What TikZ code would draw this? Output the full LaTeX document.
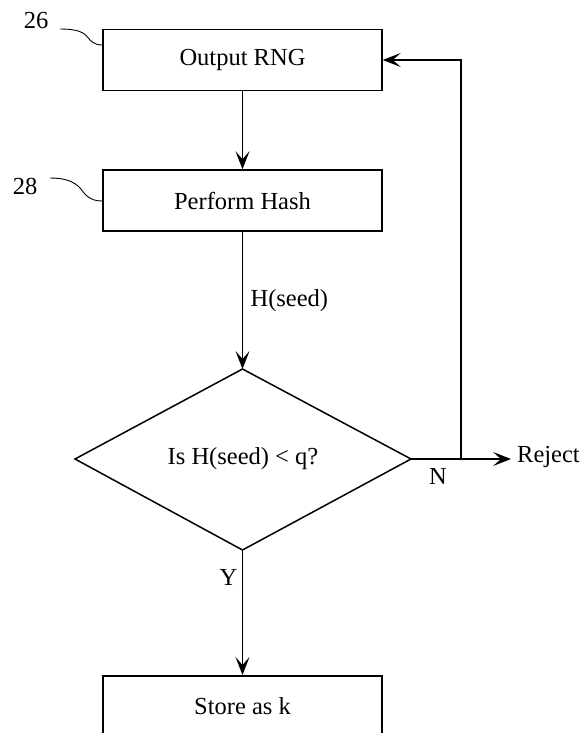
\documentclass[tikz,border=0pt]{standalone}
\usepackage{fontspec}
\setmainfont{Liberation Serif}
\usetikzlibrary{arrows.meta,shapes.geometric}
\begin{document}
\begin{tikzpicture}[x=1pt,y=-1pt,
  every node/.style={font=\fontsize{24.5}{28}\selectfont},
  procbox/.style={draw,line width=1.5pt,minimum width=279pt,minimum height=61pt,inner sep=0pt},
  flow/.style={line width=1.5pt,-{Stealth[length=18pt,width=14pt,inset=8pt]}},
  lead/.style={line width=0.9pt}]
\useasboundingbox (0,0) rectangle (586,733);
\node[procbox] (rng) at (242.5,60) {Output RNG};
\node[procbox] (hash) at (242.5,200.5) {Perform Hash};
\coordinate (dtop) at (242.5,369);
\coordinate (dleft) at (75,459);
\coordinate (dright) at (411,459);
\coordinate (dbot) at (242.5,550);
\draw[line width=1.5pt,line join=miter] (dtop) -- (dright) -- (dbot) -- (dleft) -- cycle;
\node (q) at (243,459) {Is H(seed) < q?};
\node[procbox,anchor=north] (store) at (242.5,675) {Store as k};
\coordinate (rej) at (511,459);
\coordinate (fb) at (461,459);
\coordinate (fbtop) at (461,60);
\node[anchor=west,inner sep=0pt] (reject) at (517,457) {Reject};
\draw[flow] (rng) -- (hash);
\draw[flow] (hash) -- node[right,xshift=4pt] (hs) {H(seed)} (dtop);
\draw[flow] (dright) -- (rej);
\draw[flow] (fb) -- (fbtop) -- (rng.east);
\draw[flow] (dbot) -- node[left,xshift=-1pt,pos=0.22] (y) {Y} (store.north);
\node (n) at (438,476) {N};
\node (l26) at (36,21) {26};
\node (l28) at (25,186) {28};
\draw[lead] (60,29) .. controls (85,29) and (86,36) .. (90,40) .. controls (94,44) and (98,45) .. (rng.west |- 0,45);
\draw[lead] (50,178) .. controls (75,178) and (80,188) .. (84,193) .. controls (90,200) and (96,201) .. (hash.west |- 0,201);
\end{tikzpicture}
\end{document}
